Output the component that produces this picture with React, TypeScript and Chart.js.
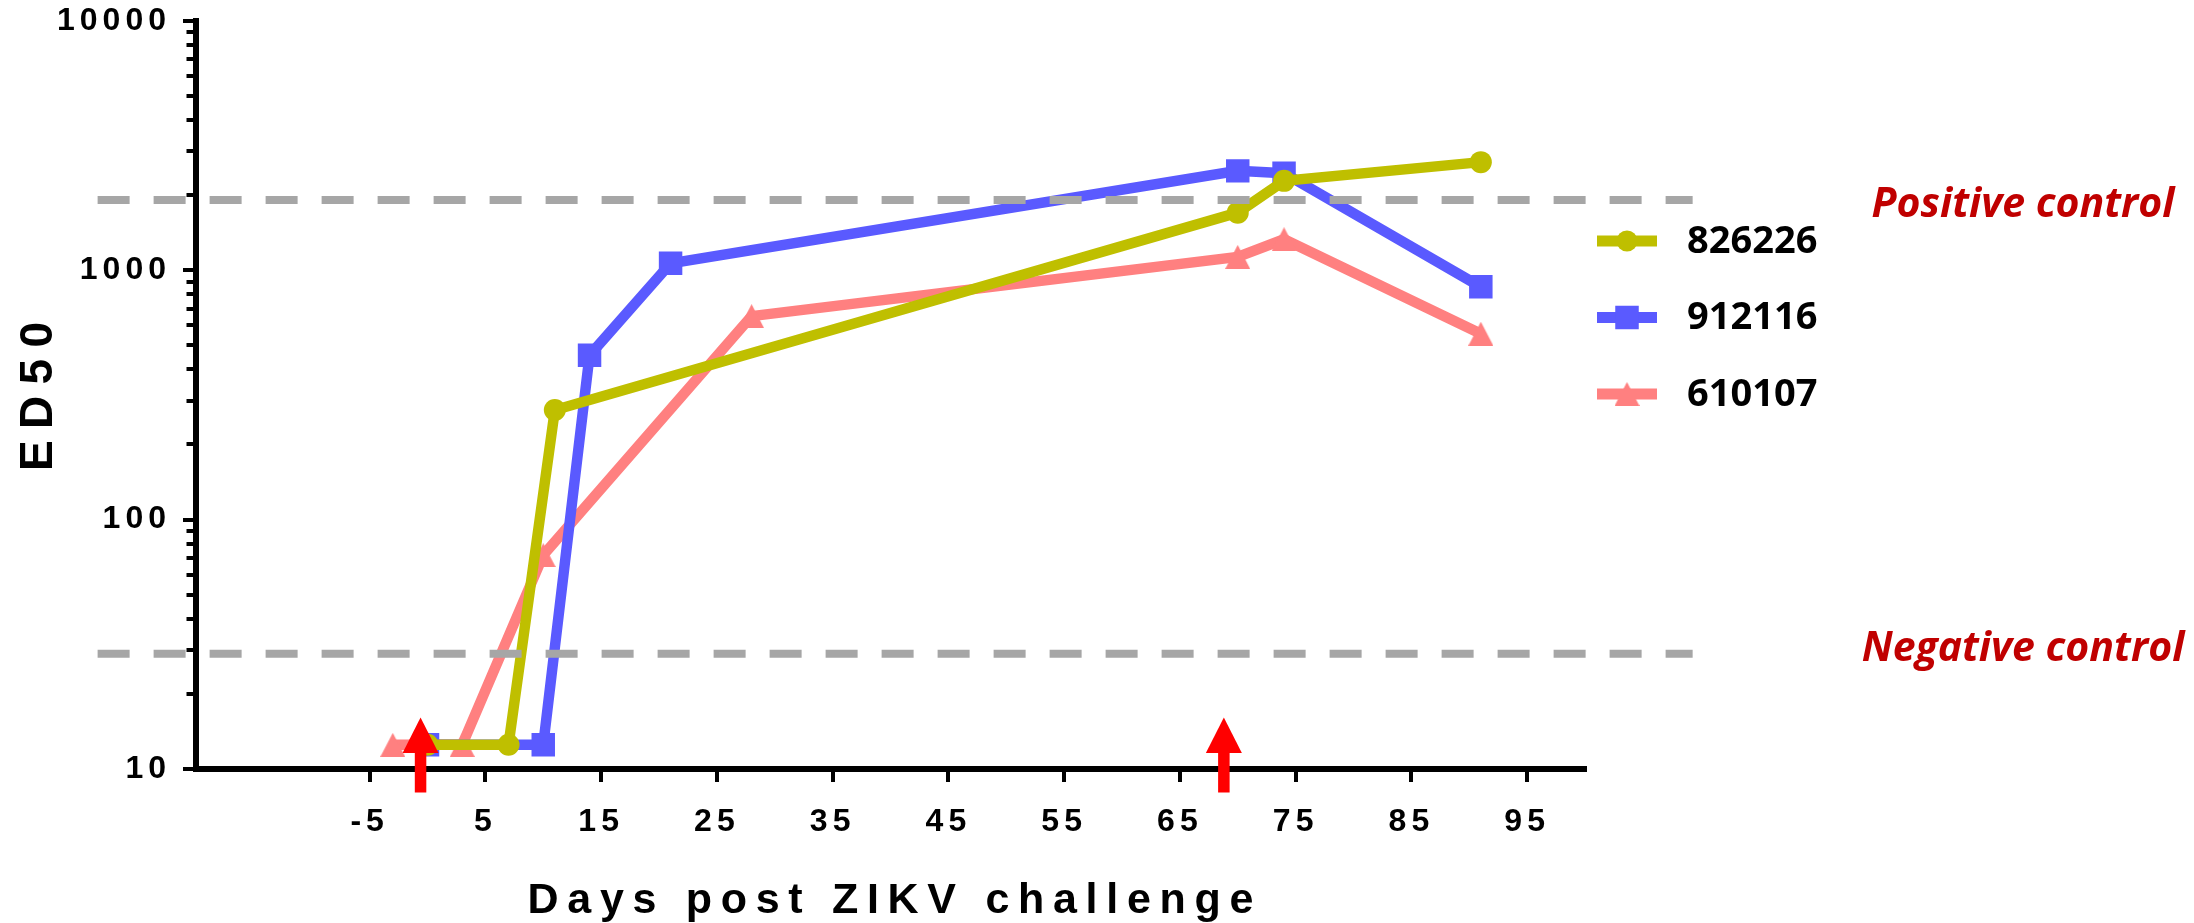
import React, { useEffect, useRef } from 'react';
import { Chart, registerables } from 'chart.js';

Chart.register(...registerables);

// ---------------- data ----------------
const seriesNames = ['826226', '912116', '610107'];

const days826226 = [0, 7, 11, 70, 74, 91];
const ed50_826226 = [12.5, 12.5, 275, 1700, 2280, 2710];

const days912116 = [0, 10, 14, 21, 70, 74, 91];
const ed50_912116 = [12.5, 12.5, 456, 1065, 2500, 2445, 857];

const days610107 = [-3, 3, 10, 28, 70, 74, 91];
const ed50_610107 = [12.5, 12.5, 72, 654, 1130, 1330, 556];

const xTickValues = [-5, 5, 15, 25, 35, 45, 55, 65, 75, 85, 95];
const yMajorTickValues = [10, 100, 1000, 10000];
const yMinorTickValues = [
  20, 30, 40, 50, 60, 70, 80, 90,
  200, 300, 400, 500, 600, 700, 800, 900,
  2000, 3000, 4000, 5000, 6000, 7000, 8000, 9000,
];
const xAxisRange = [-20, 100];
const yAxisRange = [10, 10000];

const controlNames = ['Positive control', 'Negative control'];
const controlLevels = [1910, 29];
const controlLineDays = [-28.5, 109.3];

const challengeDays = [-0.6, 68.8];
const challengeArrowLevels = [16.1, 8.05]; // tip, tail (ED50 units)

const xTitle = 'Days post ZIKV challenge';
const yTitle = 'ED50';

// ---------------- styles ----------------
const COLORS = ['#BFBF00', '#5A5AFF', '#FF8080'];
const AXIS_FONT = '"Liberation Sans", Arial, Helvetica, sans-serif';
const LABEL_FONT = '"Open Sans", "Noto Sans", sans-serif';
const GRAY = '#A6A6A6';
const DARK_RED = '#C00000';

export default function App() {
  const ref = useRef<HTMLCanvasElement>(null);

  useEffect(() => {
    const canvas = ref.current;
    if (!canvas) return;

    const tri = document.createElement('canvas');
    tri.width = 25;
    tri.height = 24;
    const tctx = tri.getContext('2d')!;
    tctx.fillStyle = COLORS[2];
    tctx.beginPath();
    tctx.moveTo(12.5, 0);
    tctx.lineTo(25, 24);
    tctx.lineTo(0, 24);
    tctx.closePath();
    tctx.fill();

    const markerStyles: any[] = ['circle', 'rect', tri];
    const markerRadii = [11, 16.6, 12.5];
    const seriesDays = [days826226, days912116, days610107];
    const seriesVals = [ed50_826226, ed50_912116, ed50_610107];

    const datasets = seriesNames.map((name, i) => ({
      label: name,
      data: seriesDays[i].map((d, j) => ({ x: d, y: seriesVals[i][j] })),
      borderColor: COLORS[i],
      backgroundColor: COLORS[i],
      borderWidth: 10.5,
      pointStyle: markerStyles[i],
      pointRadius: markerRadii[i],
      pointHoverRadius: markerRadii[i],
      pointBackgroundColor: COLORS[i],
      pointBorderColor: COLORS[i],
      pointBorderWidth: 0,
      tension: 0,
      fill: false,
    }));

    const drawMarker = (ctx: CanvasRenderingContext2D, i: number, x: number, y: number) => {
      ctx.fillStyle = COLORS[i];
      if (i === 0) {
        ctx.beginPath();
        ctx.arc(x, y, 10.5, 0, Math.PI * 2);
        ctx.fill();
      } else if (i === 1) {
        ctx.fillRect(x - 11.75, y - 11.75, 23.5, 23.5);
      } else {
        ctx.drawImage(tri, x - tri.width / 2, y - tri.height / 2);
      }
    };

    const overlay = {
      id: 'overlay',
      beforeDraw(chart: any) {
        (chart.ctx as any).letterSpacing = '5px';
      },
      afterDatasetsDraw(chart: any) {
        const { ctx, scales } = chart;
        const x = scales.x;
        const y = scales.y;
        ctx.save();
        (ctx as any).letterSpacing = '0px';
        // control dashed lines
        ctx.strokeStyle = GRAY;
        ctx.lineWidth = 8;
        ctx.lineCap = 'butt';
        ctx.setLineDash([32, 24]);
        controlLevels.forEach((lvl) => {
          const py = y.getPixelForValue(lvl);
          ctx.beginPath();
          ctx.moveTo(x.getPixelForValue(controlLineDays[0]), py);
          ctx.lineTo(x.getPixelForValue(controlLineDays[1]), py);
          ctx.stroke();
        });
        ctx.setLineDash([]);
        // challenge arrows
        ctx.fillStyle = '#FF0000';
        challengeDays.forEach((d) => {
          const px = x.getPixelForValue(d);
          const tip = y.getPixelForValue(challengeArrowLevels[0]);
          const tail = y.getPixelForValue(challengeArrowLevels[1]);
          const base = tip + 35.5;
          ctx.fillRect(px - 5.75, base - 1, 11.5, tail - base + 1);
          ctx.beginPath();
          ctx.moveTo(px, tip);
          ctx.lineTo(px + 18, base);
          ctx.lineTo(px - 18, base);
          ctx.closePath();
          ctx.fill();
        });
        ctx.restore();
      },
      afterDraw(chart: any) {
        const { ctx, chartArea, scales } = chart;
        const y = scales.y;
        ctx.save();
        ctx.fillStyle = '#000';

        // x axis title
        ctx.font = `bold 43px ${AXIS_FONT}`;
        (ctx as any).letterSpacing = '8.7px';
        ctx.textAlign = 'center';
        ctx.textBaseline = 'alphabetic';
        ctx.fillText(xTitle, (chartArea.left + chartArea.right) / 2 + 4.3, 913);

        // y axis title
        ctx.save();
        ctx.font = `bold 46px ${AXIS_FONT}`;
        (ctx as any).letterSpacing = '11.3px';
        ctx.translate(51.7, (chartArea.top + chartArea.bottom) / 2 + 1.5);
        ctx.rotate(-Math.PI / 2);
        ctx.textAlign = 'center';
        ctx.textBaseline = 'alphabetic';
        ctx.fillText(yTitle, 5.6, 0);
        ctx.restore();

        // legend
        (ctx as any).letterSpacing = '0px';
        seriesNames.forEach((name, i) => {
          const cy = 241 + i * 76.5;
          ctx.strokeStyle = COLORS[i];
          ctx.lineWidth = 11;
          ctx.lineCap = 'butt';
          ctx.beginPath();
          ctx.moveTo(1597, cy);
          ctx.lineTo(1657, cy);
          ctx.stroke();
          drawMarker(ctx, i, 1627, cy);
          ctx.fillStyle = '#000';
          ctx.font = `bold 38px ${LABEL_FONT}`;
          ctx.textAlign = 'left';
          ctx.textBaseline = 'middle';
          ctx.fillText(name, 1687, cy + 1);
        });

        // control labels
        ctx.fillStyle = DARK_RED;
        ctx.font = `italic bold 41px ${LABEL_FONT}`;
        ctx.textAlign = 'center';
        ctx.textBaseline = 'alphabetic';
        const offsets = [17, 7.5];
        controlNames.forEach((name, i) => {
          ctx.fillText(name, 2023, y.getPixelForValue(controlLevels[i]) + offsets[i]);
        });

        ctx.restore();
        (ctx as any).letterSpacing = '0px';
      },
    };

    const tickFont = { family: AXIS_FONT, size: 32, weight: 'bold' as const };
    const tickGrid = {
      drawOnChartArea: false,
      drawTicks: true,
      tickLength: 13,
      tickWidth: 4,
      tickColor: '#000',
      color: '#000',
      lineWidth: 4,
    };
    const zeroPad = (s: any) => {
      s.paddingTop = 0;
      s.paddingBottom = 0;
      s.paddingLeft = 0;
      s.paddingRight = 0;
    };

    const chart = new Chart(canvas, {
      type: 'line',
      data: { datasets: datasets as any },
      options: {
        responsive: false,
        animation: false,
        events: [],
        layout: { padding: { left: 0, right: 609, top: 20.7, bottom: 0 } },
        plugins: { legend: { display: false }, tooltip: { enabled: false } },
        scales: {
          x: {
            type: 'linear',
            position: 'bottom',
            min: xAxisRange[0],
            max: xAxisRange[1],
            afterBuildTicks: (s: any) => {
              s.ticks = xTickValues.map((v) => ({ value: v }));
            },
            afterFit: (s: any) => {
              s.height = 154;
              zeroPad(s);
            },
            grid: tickGrid,
            border: { display: true, color: '#000', width: 6 },
            ticks: {
              autoSkip: false,
              maxRotation: 0,
              minRotation: 0,
              padding: 20.8,
              color: '#000',
              font: tickFont,
              callback: (v: any) => String(v),
            },
          },
          y: {
            type: 'logarithmic',
            position: 'left',
            min: yAxisRange[0],
            max: yAxisRange[1],
            afterBuildTicks: (s: any) => {
              s.ticks = yMajorTickValues.map((v) => ({ value: v }));
            },
            afterFit: (s: any) => {
              s.width = 196;
              zeroPad(s);
            },
            grid: tickGrid,
            border: { display: true, color: '#000', width: 6 },
            ticks: {
              autoSkip: false,
              padding: 12,
              color: '#000',
              font: tickFont,
              callback: (v: any) => String(v),
            },
          },
          yMinor: {
            axis: 'y',
            type: 'logarithmic',
            position: { x: xAxisRange[0] },
            min: yAxisRange[0],
            max: yAxisRange[1],
            afterBuildTicks: (s: any) => {
              s.ticks = yMinorTickValues.map((v) => ({ value: v }));
            },
            afterFit: (s: any) => {
              s.width = 0;
              zeroPad(s);
            },
            grid: { ...tickGrid, tickLength: 9.5 },
            border: { display: false },
            ticks: { display: false },
          },
        } as any,
      },
      plugins: [overlay],
    });

    // make sure the installed fonts are ready, then redraw once
    let alive = true;
    const fontSpecs = [
      `bold 38px ${LABEL_FONT}`,
      `italic bold 41px ${LABEL_FONT}`,
      `bold 32px ${AXIS_FONT}`,
      `bold 43px ${AXIS_FONT}`,
    ];
    Promise.all(fontSpecs.map((f) => document.fonts.load(f).catch(() => null)))
      .then(() => {
        if (alive) chart.update();
      })
      .catch(() => null);

    return () => {
      alive = false;
      chart.destroy();
    };
  }, []);

  return (
    <div style={{ position: 'fixed', left: 0, top: 0, width: 2194, height: 923, background: '#fff' }}>
      <canvas ref={ref} width={2194} height={923} style={{ display: 'block', width: 2194, height: 923 }} />
    </div>
  );
}
